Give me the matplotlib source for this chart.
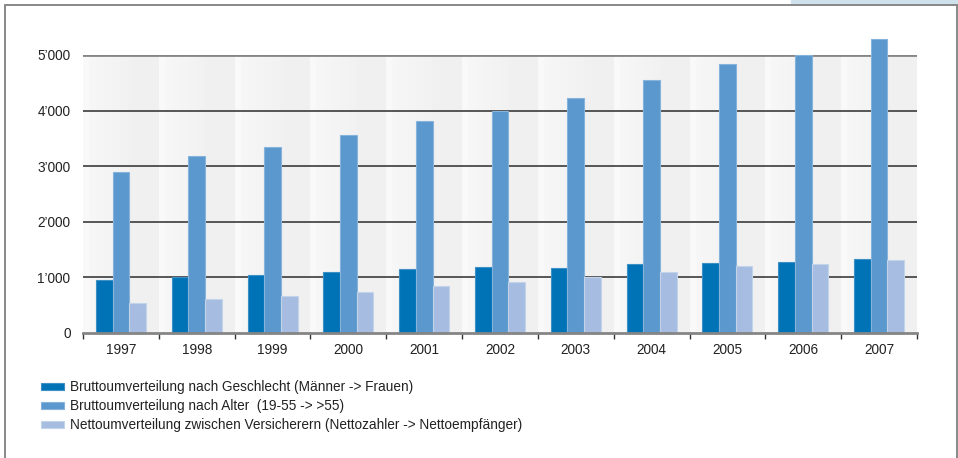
import numpy as np
import matplotlib.pyplot as plt
from matplotlib.patches import Rectangle
from matplotlib.ticker import FuncFormatter

plt.rcParams["font.family"] = ["Liberation Sans", "DejaVu Sans"]

years = ["1997", "1998", "1999", "2000", "2001", "2002", "2003", "2004", "2005", "2006", "2007"]
geschlecht = [950, 1005, 1040, 1090, 1150, 1180, 1170, 1235, 1255, 1285, 1325]
alter = [2890, 3178, 3340, 3555, 3808, 3995, 4235, 4550, 4845, 4995, 5282]
netto = [535, 610, 660, 735, 845, 925, 1010, 1100, 1205, 1240, 1320]

labels = [
    "Bruttoumverteilung nach Geschlecht (Männer -> Frauen)",
    "Bruttoumverteilung nach Alter  (19-55 -> >55)",
    "Nettoumverteilung zwischen Versicherern (Nettozahler -> Nettoempfänger)",
]
colors = ["#0073b7", "#5b98cd", "#a6bde1"]
edges = ["#3d8fc6", "#86b3dc", "#c2d3ea"]
fs = 9.8

fig = plt.figure(figsize=(9.58, 4.58), dpi=100)
ax = fig.add_axes([83 / 958, 1 - 333 / 458, 834 / 958, 278 / 458])

n = len(years)
ind = np.arange(n)
ymax = 5000

# striped background, light on the left of each year, grey on the right
f = np.linspace(0, 1, 200)
shade = np.where(f < 0.08, 0.978, np.where(f < 0.62, 0.968 - 0.020 * (f - 0.08) / 0.54, 0.942))
grad = np.repeat(np.stack([shade, shade, shade * 1.002], axis=-1)[None, :, :], 2, axis=0)
grad = np.clip(grad, 0, 1)
for i in ind:
    ax.imshow(grad, extent=(i - 0.5, i + 0.5, 0, ymax), aspect="auto", zorder=0,
              interpolation="bilinear")

for y in [1000, 2000, 3000, 4000]:
    ax.axhline(y, color="#2b2b2b", lw=1.1, zorder=1)
ax.axhline(ymax, color="#858585", lw=2, zorder=1)

width = 0.22
for k, vals in enumerate([geschlecht, alter, netto]):
    ax.bar(ind + (k - 1) * width, vals, width, color=colors[k], edgecolor=edges[k],
           linewidth=0.8, label=labels[k], zorder=3, clip_on=False)

ax.set_xlim(-0.5, n - 0.5)
ax.set_ylim(0, ymax)
for s in ["left", "right", "top"]:
    ax.spines[s].set_visible(False)
ax.spines["bottom"].set_color("#858585")
ax.spines["bottom"].set_linewidth(2)
ax.spines["bottom"].set_zorder(4)

ax.set_yticks(np.arange(0, 5001, 1000))
ax.yaxis.set_major_formatter(FuncFormatter(
    lambda v, p: "0" if v == 0 else "{}’{:03d}".format(int(v) // 1000, int(v) % 1000)))
ax.tick_params(axis="y", length=0, pad=9, labelsize=fs, labelcolor="#222222")

ax.set_xticks(np.arange(-0.5, n, 1.0))
ax.set_xticklabels([])
ax.set_xticks(ind, minor=True)
ax.set_xticklabels(years, minor=True)
ax.tick_params(axis="x", which="major", direction="out", length=4, width=1, color="#333333")
ax.tick_params(axis="x", which="minor", length=0, pad=7.5, labelsize=fs, labelcolor="#222222")

ax.legend(loc="upper left", bbox_to_anchor=(36 / 958, 1 - 375 / 458),
          bbox_transform=fig.transFigure, frameon=False, fontsize=fs,
          handlelength=1.65, handleheight=0.45, handletextpad=0.45,
          labelspacing=0.36, borderaxespad=0, labelcolor="#222222")

# outer frame and tab in the top right corner
fig.patches.append(Rectangle((791 / 958, 1 - 4 / 458), 167 / 958, 4 / 458,
                             transform=fig.transFigure, color="#cfe1ea", zorder=0))
fig.patches.append(Rectangle((5 / 958, -0.01), 951.5 / 958, 1.01 - 4.5 / 458,
                             transform=fig.transFigure, fill=False, edgecolor="#808080",
                             lw=1.3, zorder=1))

fig.savefig("out.png", dpi=100)
